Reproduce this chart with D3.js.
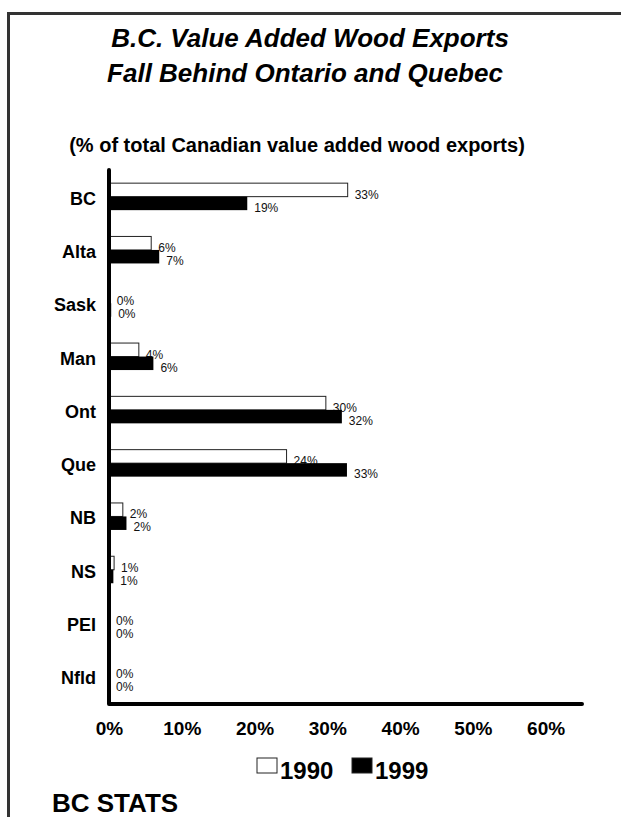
<!DOCTYPE html>
<html>
<head>
<meta charset="utf-8">
<script src="https://cdn.jsdelivr.net/npm/d3@7"></script>
<style>
  body { margin: 0; background: #fff; }
  text { font-family: "Liberation Sans", Arial, sans-serif; }
</style>
</head>
<body>
<div id="chart"></div>
<script>
// provinces, top to bottom
var provinces = ["BC", "Alta", "Sask", "Man", "Ont", "Que", "NB", "NS", "PEI", "Nfld"]
// % of total Canadian value added wood exports
var values1990 = [32.8, 5.8, 0.1, 4.1, 29.8, 24.4, 1.9, 0.7, 0, 0]
var values1999 = [19.0, 6.9, 0.3, 6.1, 32.0, 32.7, 2.4, 0.6, 0, 0]
var xTicks = [0, 10, 20, 30, 40, 50, 60]
var years = ["1990", "1999"]

var width = 621, height = 817
var svg = d3.select("#chart").append("svg")
  .attr("width", width)
  .attr("height", height)

// frame (only top + left edges show)
svg.append("path")
  .attr("d", "M8.5,817 L8.5,13.5 L621,13.5")
  .attr("fill", "none")
  .attr("stroke", "#333")
  .attr("stroke-width", 3)

// titles
svg.append("text")
  .attr("x", 310).attr("y", 47)
  .attr("text-anchor", "middle")
  .style("font-size", "26px").style("font-weight", "bold").style("font-style", "italic")
  .text("B.C. Value Added Wood Exports")
svg.append("text")
  .attr("x", 305).attr("y", 82)
  .attr("text-anchor", "middle")
  .style("font-size", "26px").style("font-weight", "bold").style("font-style", "italic")
  .text("Fall Behind Ontario and Quebec")
svg.append("text")
  .attr("x", 297).attr("y", 152)
  .attr("text-anchor", "middle")
  .style("font-size", "20px").style("font-weight", "bold")
  .text("(% of total Canadian value added wood exports)")

var x = d3.scaleLinear()
  .domain([0, 65])
  .range([109, 582])

var y = d3.scaleBand()
  .domain(provinces)
  .range([170, 703])

var barH = 13.5

var rows = provinces.map(function(p, i) {
  return {name: p, v1990: values1990[i], v1999: values1999[i]}
})

// value labels go under the bars (bars overlap them a little)
var labels = svg.append("g").style("font-size", "12px").attr("fill", "#111")
labels.selectAll(".l90")
  .data(rows).enter().append("text")
    .attr("x", function(d) { return x(d.v1990) + 7 })
    .attr("y", function(d) { return y(d.name) + y.bandwidth() / 2 + 2 })
    .text(function(d) { return Math.round(d.v1990) + "%" })
labels.selectAll(".l99")
  .data(rows).enter().append("text")
    .attr("x", function(d) { return x(d.v1999) + 7 })
    .attr("y", function(d) { return y(d.name) + y.bandwidth() / 2 + 15 })
    .text(function(d) { return Math.round(d.v1999) + "%" })

// bars
svg.append("g").selectAll("rect")
  .data(rows.filter(function(d) { return d.v1990 > 0 })).enter().append("rect")
    .attr("x", x(0))
    .attr("y", function(d) { return y(d.name) + y.bandwidth() / 2 - barH })
    .attr("width", function(d) { return x(d.v1990) - x(0) })
    .attr("height", barH)
    .attr("fill", "#fff")
    .attr("stroke", "#222")
    .attr("stroke-width", 1)
svg.append("g").selectAll("rect")
  .data(rows.filter(function(d) { return d.v1999 > 0 })).enter().append("rect")
    .attr("x", x(0))
    .attr("y", function(d) { return y(d.name) + y.bandwidth() / 2 })
    .attr("width", function(d) { return x(d.v1999) - x(0) })
    .attr("height", barH)
    .attr("fill", "#000")

// category labels
svg.append("g").selectAll("text")
  .data(provinces).enter().append("text")
    .attr("x", 96)
    .attr("y", function(d) { return y(d) + y.bandwidth() / 2 + 8 })
    .attr("text-anchor", "end")
    .style("font-size", "18px").style("font-weight", "bold")
    .text(function(d) { return d })

// x axis labels
var xAxis = svg.append("g")
  .attr("transform", "translate(0,704)")
  .call(d3.axisBottom(x).tickValues(xTicks).tickSize(0).tickFormat(function(d) { return d + "%" }))
xAxis.select(".domain").remove()
xAxis.selectAll("text")
  .attr("y", 31).attr("dy", 0)
  .attr("fill", "#000")
  .style("font-size", "19px").style("font-weight", "bold")
  .style("font-family", "'Liberation Sans', Arial, sans-serif")

// heavy axis lines
svg.append("path")
  .attr("d", "M" + x(0) + "," + y.range()[0] + " L" + x(0) + ",704 L" + x.range()[1] + ",704")
  .attr("fill", "none")
  .attr("stroke", "#000")
  .attr("stroke-width", 4)
  .attr("stroke-linecap", "round")
  .attr("stroke-linejoin", "round")

// legend
var legend = svg.append("g").selectAll("g")
  .data(years).enter().append("g")
    .attr("transform", function(d, i) { return "translate(" + (257 + i * 95) + ",758)" })
legend.append("rect")
  .attr("width", 20).attr("height", 15)
  .attr("fill", function(d, i) { return i == 0 ? "#fff" : "#000" })
  .attr("stroke", "#222").attr("stroke-width", 1)
legend.append("text")
  .attr("x", 23).attr("y", 21)
  .style("font-size", "24px").style("font-weight", "bold")
  .text(function(d) { return d })

svg.append("text")
  .attr("x", 52).attr("y", 812)
  .style("font-size", "26px").style("font-weight", "bold")
  .text("BC STATS")
</script>
</body>
</html>
